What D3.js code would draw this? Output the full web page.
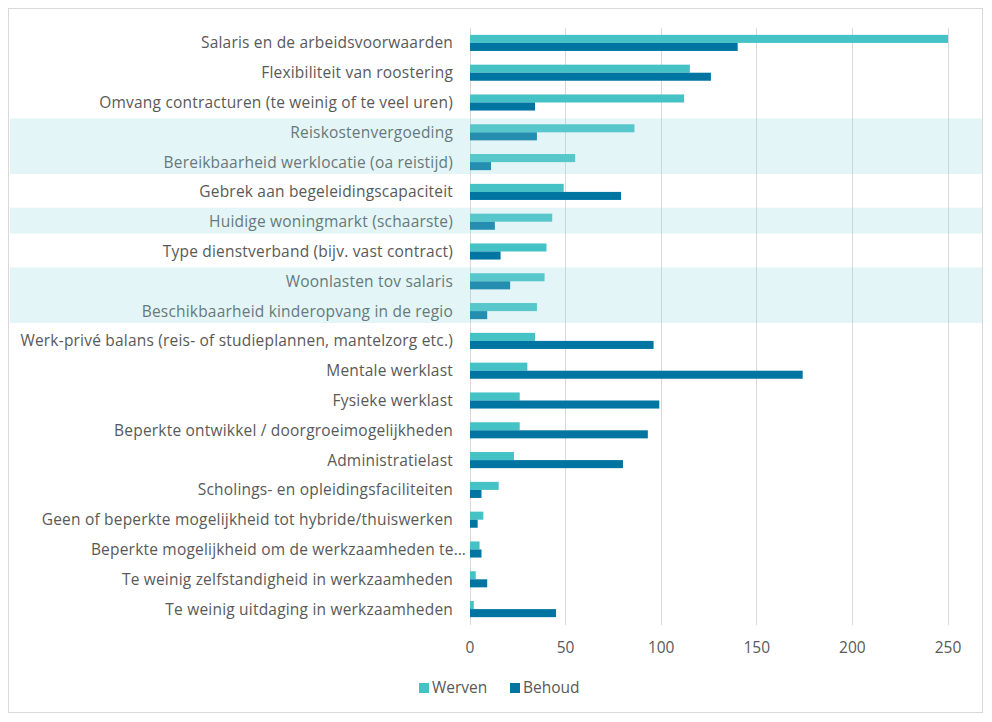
<!DOCTYPE html>
<html>
<head>
<meta charset="utf-8">
<script src="https://cdn.jsdelivr.net/npm/d3@7"></script>
<style>
  body { margin: 0; background: #fff; }
  svg text { font-family: "Open Sans", sans-serif; fill: #595959; }
</style>
</head>
<body>
<svg id="chart" width="992" height="722"></svg>
<script>
// categories top to bottom
const categories = [
  "Salaris en de arbeidsvoorwaarden",
  "Flexibiliteit van roostering",
  "Omvang contracturen (te weinig of te veel uren)",
  "Reiskostenvergoeding",
  "Bereikbaarheid werklocatie (oa reistijd)",
  "Gebrek aan begeleidingscapaciteit",
  "Huidige woningmarkt (schaarste)",
  "Type dienstverband (bijv. vast contract)",
  "Woonlasten tov salaris",
  "Beschikbaarheid kinderopvang in de regio",
  "Werk-privé balans (reis- of studieplannen, mantelzorg etc.)",
  "Mentale werklast",
  "Fysieke werklast",
  "Beperkte ontwikkel / doorgroeimogelijkheden",
  "Administratielast",
  "Scholings- en opleidingsfaciliteiten",
  "Geen of beperkte mogelijkheid tot hybride/thuiswerken",
  "Beperkte mogelijkheid om de werkzaamheden te…",
  "Te weinig zelfstandigheid in werkzaamheden",
  "Te weinig uitdaging in werkzaamheden"
];
const werven = [250, 115, 112, 86, 55, 49, 43, 40, 39, 35, 34, 30, 26, 26, 23, 15, 7, 5, 3, 2];
const behoud = [140, 126, 34, 35, 11, 79, 13, 16, 21, 9, 96, 174, 99, 93, 80, 6, 4, 6, 9, 45];
const seriesNames = ["Werven", "Behoud"];
const xTicks = [0, 50, 100, 150, 200, 250];
// rows with a highlight band (groups of consecutive rows)
const highlightGroups = [
  ["Reiskostenvergoeding", "Bereikbaarheid werklocatie (oa reistijd)"],
  ["Huidige woningmarkt (schaarste)"],
  ["Woonlasten tov salaris", "Beschikbaarheid kinderopvang in de regio"]
];

const colors = { Werven: "#44c2c6", Behoud: "#0075a2" };

const svg = d3.select("#chart");
const plotLeft = 470, plotRight = 948, plotTop = 28, plotBottom = 624;

// frame
svg.append("rect")
  .attr("x", 8.5).attr("y", 8.5)
  .attr("width", 974).attr("height", 704)
  .attr("fill", "#fff").attr("stroke", "#d9d9d9");

const x = d3.scaleLinear().domain([0, 250]).range([plotLeft, plotRight]);
const y = d3.scaleBand().domain(categories).range([plotTop, plotBottom])
  .paddingInner(0.46).paddingOuter(0.23);
const ySub = d3.scaleBand().domain(seriesNames).range([0, y.bandwidth()]);

// gridlines
svg.append("g").selectAll("line").data(xTicks).join("line")
  .attr("x1", d => x(d)).attr("x2", d => x(d))
  .attr("y1", plotTop).attr("y2", plotBottom + 1)
  .attr("stroke", "#d9d9d9").attr("stroke-width", 1)
  .attr("shape-rendering", "crispEdges");

// x tick labels
svg.append("g").selectAll("text").data(xTicks).join("text")
  .attr("x", d => x(d)).attr("y", 648)
  .attr("dy", "0.35em")
  .attr("text-anchor", "middle")
  .attr("font-size", 15.5)
  .text(d => d);

// category labels (truncated label sits closer to the axis, like Excel)
svg.append("g").selectAll("text").data(categories).join("text")
  .attr("x", d => d.endsWith("…") ? 466 : 453)
  .attr("y", d => y(d) + y.bandwidth() / 2)
  .attr("dy", "0.35em")
  .attr("text-anchor", "end")
  .attr("font-size", 15.5)
  .attr("letter-spacing", 0.2)
  .text(d => d);

// bars
const rows = categories.map((c, i) => ({ cat: c, Werven: werven[i], Behoud: behoud[i] }));
const groups = svg.append("g").selectAll("g").data(rows).join("g")
  .attr("transform", d => `translate(0,${y(d.cat)})`);
groups.selectAll("rect").data(d => seriesNames.map(s => ({ s, v: d[s] }))).join("rect")
  .attr("x", x(0))
  .attr("y", d => ySub(d.s))
  .attr("width", d => x(d.v) - x(0))
  .attr("height", ySub.bandwidth())
  .attr("fill", d => colors[d.s]);

// highlight overlays on top
const step = y.step();
svg.append("g").selectAll("rect").data(highlightGroups).join("rect")
  .attr("x", 10).attr("width", 972)
  .attr("y", g => y(g[0]) - (step - y.bandwidth()) / 2 + 1)
  .attr("height", g => g.length * step - 4)
  .attr("fill", "#8fd6da").attr("opacity", 0.25);

// legend
const legend = svg.append("g").attr("transform", "translate(419,688)");
const legendX = [0, 91];
seriesNames.forEach((s, i) => {
  const g = legend.append("g").attr("transform", `translate(${legendX[i]},0)`);
  g.append("rect").attr("x", 0).attr("y", -5).attr("width", 10).attr("height", 10)
    .attr("fill", colors[s]);
  g.append("text").attr("x", 13).attr("y", 0).attr("dy", "0.35em")
    .attr("font-size", 15.5).text(s);
});
</script>
</body>
</html>
